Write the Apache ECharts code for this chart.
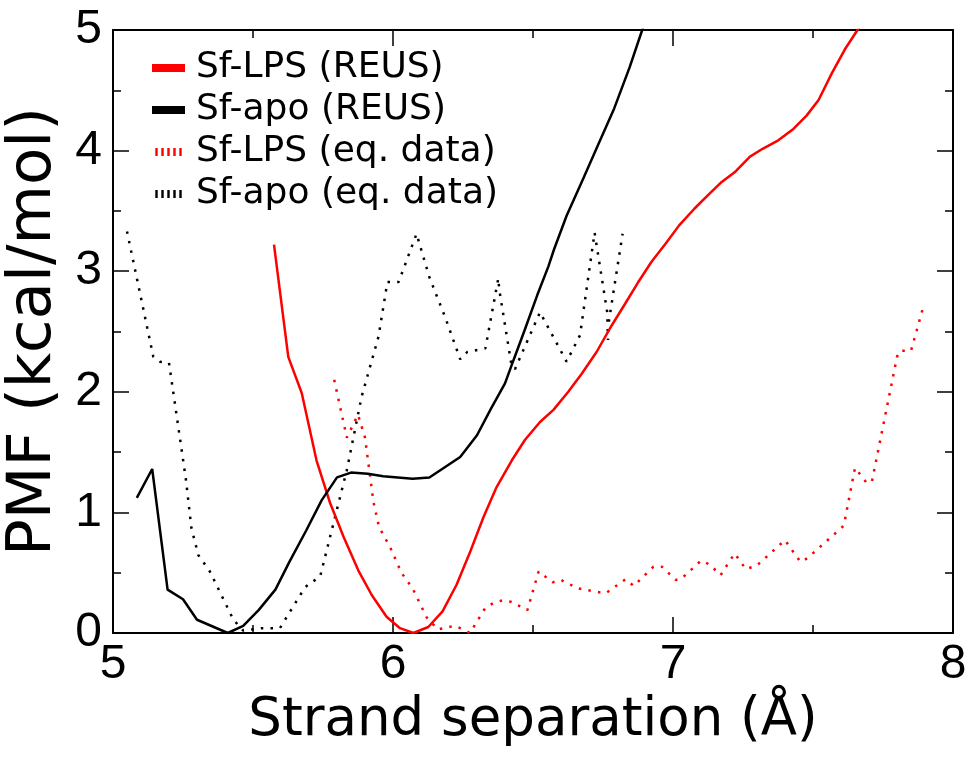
<!DOCTYPE html>
<html>
<head>
<meta charset="utf-8">
<script src="https://cdn.jsdelivr.net/npm/echarts@6/dist/echarts.min.js"></script>
<style>
html,body{margin:0;padding:0;background:#fff;}
#chart{width:970px;height:757px;}
</style>
</head>
<body>
<div id="chart"></div>
<script>
// ---- data ----
const xTicks = [5, 6, 7, 8];
const yTicks = [0, 1, 2, 3, 4, 5];
const seriesNames = ['Sf-LPS (REUS)', 'Sf-apo (REUS)', 'Sf-LPS (eq. data)', 'Sf-apo (eq. data)'];

const lpsReus = [
  [5.575,3.22],[5.626,2.29],[5.674,1.99],[5.727,1.43],[5.775,1.08],[5.823,0.80],
  [5.876,0.52],[5.924,0.315],[5.977,0.135],[6.025,0.04],[6.073,0.0],[6.126,0.05],
  [6.177,0.18],[6.227,0.40],[6.275,0.67],[6.323,0.96],[6.37,1.21],[6.424,1.43],
  [6.471,1.60],[6.525,1.75],[6.573,1.85],[6.626,2.00],[6.674,2.15],[6.727,2.33],
  [6.781,2.55],[6.829,2.73],[6.876,2.91],[6.924,3.08],[6.974,3.23],[7.022,3.38],
  [7.077,3.52],[7.125,3.63],[7.174,3.74],[7.22,3.82],[7.275,3.95],[7.32,4.015],
  [7.376,4.085],[7.43,4.18],[7.477,4.29],[7.52,4.42],[7.567,4.64],[7.614,4.84],
  [7.656,4.99],[7.70,5.15]
];

const apoReus = [
  [5.085,1.12],[5.14,1.36],[5.195,0.36],[5.25,0.28],[5.30,0.11],[5.41,0.0],
  [5.465,0.06],[5.52,0.19],[5.58,0.36],[5.63,0.59],[5.69,0.85],[5.745,1.10],
  [5.80,1.29],[5.85,1.33],[5.91,1.32],[5.965,1.30],[6.07,1.28],[6.13,1.29],
  [6.24,1.46],[6.30,1.64],[6.35,1.86],[6.40,2.07],[6.43,2.26],[6.47,2.51],
  [6.515,2.80],[6.555,3.04],[6.575,3.18],[6.62,3.46],[6.68,3.77],[6.735,4.06],
  [6.79,4.35],[6.845,4.69],[6.89,5.0],[6.93,5.25]
];

const lpsEq = [
  [5.79,2.10],[5.835,1.62],[5.875,1.81],[5.90,1.62],[5.93,1.09],[5.95,0.88],
  [5.99,0.71],[6.03,0.50],[6.07,0.37],[6.12,0.13],[6.16,0.03],[6.22,0.06],
  [6.25,0.03],[6.275,0.0],[6.33,0.21],[6.36,0.25],[6.39,0.27],[6.42,0.26],
  [6.48,0.19],[6.52,0.51],[6.57,0.42],[6.60,0.44],[6.66,0.37],[6.73,0.34],
  [6.76,0.33],[6.83,0.445],[6.86,0.39],[6.93,0.55],[6.96,0.55],[7.01,0.44],
  [7.03,0.45],[7.10,0.60],[7.13,0.57],[7.17,0.48],[7.22,0.66],[7.26,0.53],
  [7.30,0.56],[7.40,0.77],[7.455,0.59],[7.48,0.62],[7.61,0.89],[7.65,1.37],
  [7.69,1.25],[7.71,1.25],[7.80,2.29],[7.81,2.34],[7.85,2.34],[7.897,2.73]
];

const apoEq = [
  [5.05,3.33],[5.144,2.29],[5.168,2.25],[5.20,2.24],[5.26,1.28],[5.28,0.87],
  [5.305,0.645],[5.346,0.51],[5.43,0.11],[5.465,0.02],[5.53,0.04],[5.596,0.04],
  [5.686,0.38],[5.74,0.47],[5.835,1.35],[5.888,1.96],[5.948,2.455],[5.98,2.91],
  [6.02,2.91],[6.084,3.31],[6.13,2.95],[6.186,2.62],[6.24,2.27],[6.265,2.33],
  [6.33,2.36],[6.376,2.94],[6.38,2.84],[6.424,2.21],[6.436,2.19],[6.525,2.66],
  [6.62,2.25],[6.668,2.47],[6.72,3.32],[6.765,2.66],[6.768,2.43],[6.772,2.60],
  [6.82,3.31]
];

// ---- chart ----
const RED = '#ff0000', BLACK = '#000000';
const tickFont = {fontFamily: 'Liberation Sans, Arial, sans-serif', fontSize: 48, color: '#000'};
const dotType = [2.5, 7.2];

const chart = echarts.init(document.getElementById('chart'), null, {renderer: 'canvas'});

function frameAxis(extra) {
  return Object.assign({
    type: 'value',
    axisLine: {show: true, onZero: false, lineStyle: {color: '#000', width: 2}},
    axisTick: {show: true, inside: true, length: 16, lineStyle: {color: '#000', width: 1.5}},
    minorTick: {show: true, splitNumber: 2, length: 8, lineStyle: {color: '#000', width: 1.5}},
    splitLine: {show: false},
    minorSplitLine: {show: false}
  }, extra);
}

const xMin = xTicks[0], xMax = xTicks[xTicks.length - 1];
const yMin = yTicks[0], yMax = yTicks[yTicks.length - 1];

const option = {
  animation: false,
  backgroundColor: '#fff',
  grid: {left: 113, right: 17, top: 30, bottom: 124, containLabel: false, outerBoundsMode: 'none'},
  xAxis: [
    frameAxis({
      position: 'bottom', min: xMin, max: xMax, interval: 1,
      name: 'Strand separation (Å)', nameLocation: 'middle', nameGap: 62,
      nameTextStyle: {fontFamily: 'DejaVu Sans, sans-serif', fontSize: 53, color: '#000'},
      axisLabel: Object.assign({margin: 8, formatter: v => xTicks.includes(v) ? String(v) : ''}, tickFont)
    }),
    frameAxis({position: 'top', min: xMin, max: xMax, interval: 1, axisLabel: {show: false}})
  ],
  yAxis: [
    frameAxis({
      position: 'left', min: yMin, max: yMax, interval: 1,
      name: 'PMF (kcal/mol)', nameLocation: 'middle', nameGap: 35, nameRotate: 90,
      nameTextStyle: {fontFamily: 'DejaVu Sans, sans-serif', fontSize: 61, color: '#000'},
      axisLabel: Object.assign({margin: 11, formatter: v => yTicks.includes(v) ? String(v) : ''}, tickFont)
    }),
    frameAxis({position: 'right', min: yMin, max: yMax, interval: 1, axisLabel: {show: false}})
  ],
  legend: {
    show: true,
    orient: 'vertical',
    left: 147,
    top: 43,
    itemWidth: 33,
    itemHeight: 8,
    itemGap: 2,
    textStyle: {fontFamily: 'DejaVu Sans, sans-serif', fontSize: 36, color: '#000', lineHeight: 40, padding: [0, 0, 0, 6]},
    data: [
      {name: seriesNames[0], icon: 'rect', itemStyle: {color: RED, borderWidth: 0}},
      {name: seriesNames[1], icon: 'rect', itemStyle: {color: BLACK, borderWidth: 0}},
      {name: seriesNames[2], icon: 'path://M0,0h3v10h-3zM7.5,0h3v10h-3zM15,0h3v10h-3zM22.5,0h3v10h-3zM30,0h3v10h-3z', itemStyle: {color: RED, borderWidth: 0}},
      {name: seriesNames[3], icon: 'path://M0,0h3v10h-3zM7.5,0h3v10h-3zM15,0h3v10h-3zM22.5,0h3v10h-3zM30,0h3v10h-3z', itemStyle: {color: BLACK, borderWidth: 0}}
    ]
  },
  series: [
    {name: seriesNames[2], type: 'line', data: lpsEq, symbol: 'none', clip: true,
     itemStyle: {color: RED}, lineStyle: {color: RED, width: 2.5, type: dotType, cap: 'butt'}},
    {name: seriesNames[3], type: 'line', data: apoEq, symbol: 'none', clip: true,
     itemStyle: {color: BLACK}, lineStyle: {color: BLACK, width: 2.5, type: dotType, cap: 'butt'}},
    {name: seriesNames[0], type: 'line', data: lpsReus, symbol: 'none', clip: true,
     itemStyle: {color: RED}, lineStyle: {color: RED, width: 2.5}},
    {name: seriesNames[1], type: 'line', data: apoReus, symbol: 'none', clip: true,
     itemStyle: {color: BLACK}, lineStyle: {color: BLACK, width: 2.5}}
  ]
};
chart.setOption(option);
</script>
</body>
</html>
